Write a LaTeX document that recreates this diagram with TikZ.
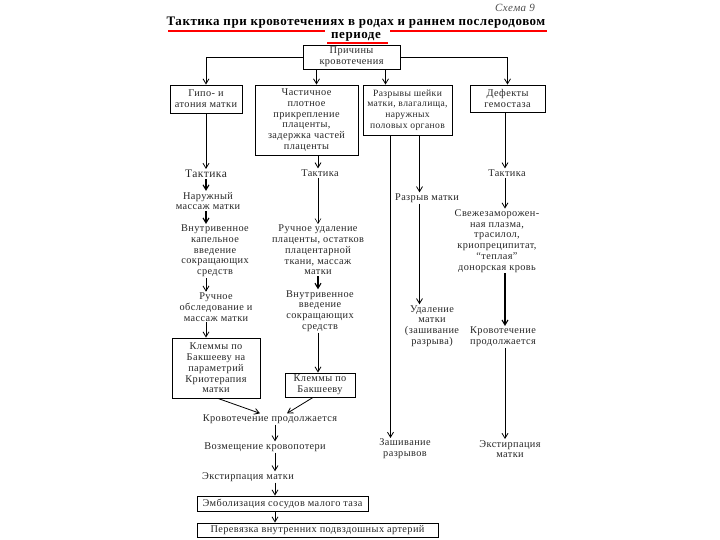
\documentclass[tikz,border=0pt]{standalone}
\usepackage{fontspec}
\setmainfont{Liberation Serif}[LetterSpace=4]
\usetikzlibrary{arrows.meta}

\begin{document}
\begin{tikzpicture}[x=1pt,y=-1pt,
    txt/.style={align=center,inner sep=1pt,font=\fontsize{10.3}{10.7}\selectfont,text=black!85},
    box/.style={txt,draw,line width=0.9pt},
    arr/.style={-{Straight Barb[length=5pt,width=6pt]},line width=0.8pt}]
  \useasboundingbox (0,0) rectangle (720,540);
  % title
  \node[text=black!70] (scheme) at (515,8) {\fontsize{11}{12}\selectfont\itshape Схема 9};
  \node (title) at (356,23) {\fontsize{13}{14}\selectfont\bfseries Тактика при кровотечениях в родах и раннем послеродовом};
  \node (title2) at (356,37) {\fontsize{13}{14}\selectfont\bfseries периоде};
  \draw[red,line width=2pt] (168,31) -- (325,31) (390,31) -- (547,31) (327,43) -- (388,43);
  % causes
  \node[box,minimum width=97pt,minimum height=24pt] (cause) at (351.5,57) {Причины\\кровотечения};
  \node[box,minimum width=72pt,minimum height=28pt] (hypo) at (206,99) {Гипо- и\\атония матки};
  \node[box,minimum width=103pt,minimum height=70pt] (placenta) at (306.5,120) {Частичное\\плотное\\прикрепление\\плаценты,\\задержка частей\\плаценты};
  \node[box,minimum width=89pt,minimum height=50pt,font=\fontsize{9.6}{10.7}\selectfont] (tears) at (407.5,110) {Разрывы шейки\\матки, влагалища,\\наружных\\половых органов};
  \node[box,minimum width=75pt,minimum height=27pt] (defects) at (507.5,98.5) {Дефекты\\гемостаза};
  \draw[arr] (cause.west) -| (hypo.north);
  \draw[arr] (cause.east) -| (defects.north);
  \coordinate (p2) at ([xshift=10pt]placenta.north);
  \coordinate (p3) at ([xshift=-22pt]tears.north);
  \draw[arr] (cause.south -| p2) -- (p2);
  \draw[arr] (cause.south -| p3) -- (p3);
  % column 1
  \coordinate (axis1) at (206,0);
  \node[txt,font=\fontsize{11.5}{12}\selectfont] (tact1) at (206,174) {Тактика};
  \node[txt] (massage) at (208,201) {Наружный\\массаж матки};
  \node[txt] (drip1) at (215,251) {Внутривенное\\капельное\\введение\\сокращающих\\средств};
  \node[txt] (exam) at (216,307) {Ручное\\обследование и\\массаж матки};
  \node[box,minimum width=88pt,minimum height=60pt] (clamp1) at (216,368) {Клеммы по\\Бакшееву на\\параметрий\\Криотерапия\\матки};
  \draw[arr] (axis1 |- hypo.south) -- (axis1 |- tact1.north);
  \draw[arr,line width=1.1pt] (axis1 |- tact1.south) -- (axis1 |- massage.north);
  \draw[arr,line width=1.1pt] (axis1 |- massage.south) -- (axis1 |- drip1.north);
  \draw[arr] (axis1 |- drip1.south) -- (axis1 |- exam.north);
  \draw[arr] (axis1 |- exam.south) -- (axis1 |- clamp1.north);
  % column 2
  \coordinate (axis2) at (318,0);
  \node[txt] (tact2) at (320,173) {Тактика};
  \node[txt] (removal) at (318,250) {Ручное удаление\\плаценты, остатков\\плацентарной\\ткани, массаж\\матки};
  \node[txt] (drip2) at (320,311) {Внутривенное\\введение\\сокращающих\\средств};
  \node[box,minimum width=70pt,minimum height=24pt] (clamp2) at (320,385) {Клеммы по\\Бакшееву};
  \draw[arr] (axis2 |- placenta.south) -- (axis2 |- tact2.north);
  \draw[arr,line width=0.5pt] (axis2 |- tact2.south) -- (axis2 |- removal.north);
  \draw[arr,line width=1.1pt] (axis2 |- removal.south) -- (axis2 |- drip2.north);
  \draw[arr] (axis2 |- drip2.south) -- (axis2 |- clamp2.north);
  % column 3
  \node[txt] (rupture) at (427,198) {Разрыв матки};
  \node[txt] (hyster) at (432,326) {Удаление\\матки\\(зашивание\\разрыва)};
  \node[txt] (suture) at (405,449) {Зашивание\\разрывов};
  \coordinate (tl) at ([xshift=-17pt]tears.south);
  \coordinate (tr) at ([xshift=12pt]tears.south);
  \draw[arr] (tl) -- (tl |- suture.north);
  \draw[arr] (tr) -- (tr |- rupture.north);
  \draw[arr] (tr |- rupture.south) -- (tr |- hyster.north);
  % column 4
  \coordinate (axis4) at (505,0);
  \node[txt] (tact4) at (507,173) {Тактика};
  \node[txt] (plasma) at (497,241) {Свежезаморожен-\\ная плазма,\\трасилол,\\криопреципитат,\\``теплая''\\донорская кровь};
  \node[txt] (bleed4) at (503,337) {Кровотечение\\продолжается};
  \node[txt] (extirp4) at (510,449) {Экстирпация\\матки};
  \draw[arr] (axis4 |- defects.south) -- (axis4 |- tact4.north);
  \draw[arr] (axis4 |- tact4.south) -- (axis4 |- plasma.north);
  \draw[arr,line width=1.1pt] (axis4 |- plasma.south) -- (axis4 |- bleed4.north);
  \draw[arr] (axis4 |- bleed4.south) -- (axis4 |- extirp4.north);
  % common part
  \node[txt] (bleed) at (270,419) {Кровотечение продолжается};
  \node[txt] (restore) at (265,447) {Возмещение кровопотери};
  \node[txt] (extirp) at (248,477) {Экстирпация матки};
  \node[box,minimum width=171pt,minimum height=15pt] (embol) at (282.5,503.5) {Эмболизация сосудов малого таза};
  \node[box,minimum width=241pt,minimum height=14pt] (ligate) at (317.5,530) {Перевязка внутренних подвздошных артерий};
  \draw[arr] ([xshift=2pt]clamp1.south) -- ([xshift=-10pt]bleed.north);
  \draw[arr] ([xshift=-7pt]clamp2.south) -- ([xshift=17pt]bleed.north);
  \coordinate (axis) at ([xshift=5pt]bleed.south);
  \draw[arr] (axis) -- (axis |- restore.north);
  \draw[arr] (axis |- restore.south) -- (axis |- extirp.north);
  \draw[arr] (axis |- extirp.south) -- (axis |- embol.north);
  \draw[arr] (axis |- embol.south) -- (axis |- ligate.north);
\end{tikzpicture}
\end{document}
